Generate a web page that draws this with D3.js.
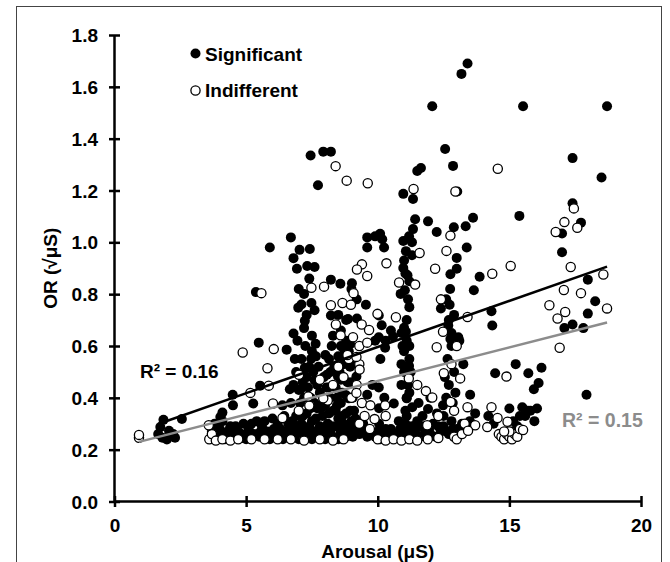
<!DOCTYPE html>
<html>
<head>
<meta charset="utf-8">
<script src="https://cdn.jsdelivr.net/npm/d3@7"></script>
<style>
  body { margin: 0; background: #fff; }
  text { font-family: "Liberation Sans", Arial, sans-serif; font-weight: bold; }
</style>
</head>
<body>
<script>
// tick values
const xTicks = [0, 5, 10, 15, 20];
const yTicks = [0, 0.2, 0.4, 0.6, 0.8, 1.0, 1.2, 1.4, 1.6, 1.8];

// Significant (filled) points
const sigScatter = [
  [13.41,1.69],[13.18,1.65],[12.07,1.525],[15.52,1.525],[18.71,1.525],[12.56,1.36],[7.45,1.335],[7.93,1.35],[8.22,1.35],
  [17.40,1.325],[12.86,1.295],[11.50,1.275],[11.64,1.287],[18.50,1.25],[7.73,1.22],[13.02,1.196],[10.97,1.187],[11.34,1.167],
  [17.40,1.151],[15.38,1.102],[13.62,1.095],[11.42,1.089],[11.91,1.081],[17.72,1.076],[13.34,1.062],[12.89,1.058],[12.24,1.04],
  [11.34,1.051],[17.0,1.034],[11.19,1.023],[6.70,1.019],[10.09,1.033],[9.90,1.023],[9.60,1.019],[10.17,1.012],[5.90,0.98],
  [7.03,0.971],[7.42,0.974],[9.60,0.98],[10.24,0.98],[10.97,1.005],[13.38,0.98],[6.80,0.939],[11.07,0.966],[17.0,0.962],
  [6.93,0.898],[7.32,0.909],[7.60,0.905],[10.97,0.901],[13.0,0.94],[13.0,0.898],[12.76,0.877],[11.13,0.873],[13.87,0.867],
  [8.22,0.856],[17.98,0.856],[8.58,0.84],[9.02,0.842],[13.65,0.815],[5.37,0.808],[7.20,0.801],[10.87,0.801],[11.03,0.815],
  [9.55,0.759],[6.98,0.748],[7.48,0.766],[7.60,0.738],[8.22,0.718],[14.32,0.734],[12.40,0.745],[12.73,0.759],[18.26,0.773],
  [17.98,0.725],[10.04,0.718],[8.87,0.704],[9.21,0.706],[7.23,0.697],[14.35,0.679],[12.68,0.679],[17.40,0.683],[17.09,0.669],
  [17.81,0.669],[7.20,0.669],[6.80,0.648],[11.07,0.655],[10.58,0.637],[13.06,0.634],[12.76,0.627],[5.48,0.613],[10.04,0.634],
  [10.28,0.593],[6.54,0.586],[7.64,0.609],[8.95,0.607],[8.66,0.595],[10.94,0.600],[10.90,0.53],[11.19,0.523],[8.01,0.565],
  [7.47,0.551],[7.23,0.516],[13.25,0.53],[15.24,0.53],[16.22,0.516],[14.46,0.495],[15.72,0.495],[8.95,0.523],[9.19,0.482],
  [8.07,0.489],[8.49,0.482],[7.60,0.468],[16.11,0.457],[15.93,0.433],[5.53,0.447],[6.66,0.433],[7.07,0.433],[8.14,0.44],
  [10.04,0.44],[4.49,0.412],[13.51,0.412],[17.93,0.412],[4.50,0.371],[5.27,0.378],[10.61,0.378],[11.10,0.398],[8.90,0.398],
  [9.60,0.412],[6.38,0.371],[4.10,0.343],[16.05,0.359],[15.0,0.359],[15.49,0.364],[11.91,0.357],[11.31,0.364],[12.48,0.371],
  [4.02,0.326],[1.86,0.315],[2.56,0.318],[1.74,0.287],[2.07,0.273],[2.23,0.26],[1.82,0.246],[2.30,0.246],[1.66,0.26],[1.99,0.239]
];
const sigCluster = [
  [6.8,0.45],[6.9,0.50],[7.0,0.43],[7.1,0.55],[7.2,0.40],[7.3,0.48],[7.4,0.52],[7.5,0.58],[7.6,0.38],[7.7,0.45],[7.8,0.42],
  [8.0,0.37],[8.2,0.50],[8.4,0.44],[8.5,0.56],[8.6,0.47],[8.7,0.53],[8.8,0.41],[8.8,0.62],[8.9,0.58],[9.0,0.46],[9.1,0.35],
  [8.6,0.60],[8.4,0.35],[8.2,0.40],[10.9,0.45],[11.0,0.50],[11.0,0.58],[11.1,0.62],[11.1,0.70],[11.2,0.75],[11.2,0.85],
  [11.0,0.93],[11.2,0.55],[10.9,0.65],[11.1,0.40],[12.6,0.40],[12.7,0.45],[12.5,0.33],[12.9,0.50],[12.8,0.60],[12.7,0.70],[12.6,0.78],
  [6.7,0.38],[6.85,0.55],[6.95,0.62],[7.05,0.38],[7.15,0.46],[7.25,0.60],[7.35,0.44],[7.45,0.40],[7.55,0.50],[7.65,0.56],
  [7.75,0.52],[7.85,0.36],[7.95,0.48],[8.05,0.44],[8.15,0.55],[8.25,0.60],[8.35,0.52],[8.45,0.40],[8.55,0.50],[8.65,0.42],
  [8.75,0.58],[8.85,0.46],[8.95,0.52],[9.05,0.40],[9.15,0.55],[8.3,0.64],[8.6,0.66],[8.5,0.72],[7.5,0.64],[7.3,0.72],
  [7.1,0.76],[7.0,0.82],[7.4,0.86],[8.8,0.70],[9.0,0.82],[9.2,0.78],
  [11.05,0.35],[11.15,0.45],[11.05,0.52],[11.2,0.60],[11.0,0.67],[11.15,0.78],[11.05,0.88],[11.3,0.95],[11.3,1.0],[11.2,0.42],[11.25,0.50],
  [12.65,0.55],[12.8,0.65],[12.9,0.72],[12.75,0.82],[12.55,0.48],[12.85,0.38],[13.1,0.62],[12.95,0.42],
  [10.05,0.36],[10.25,0.40],[9.8,0.45],[10.1,0.55],[10.3,0.62],[10.5,0.66],[9.9,0.62],[10.15,0.68],
  [14.4,0.30],[14.2,0.33],[15.15,0.31],[15.4,0.33],[15.7,0.35],[15.95,0.31],[13.5,0.31],[13.7,0.34],[12.25,0.34],[12.0,0.40],[11.7,0.33],[11.55,0.38]
];
const sigBand = [
  [3.7,0.27],[3.9,0.25],[4.0,0.28],[4.2,0.24],[4.3,0.27],[4.5,0.25],[4.6,0.29],[4.8,0.26],[4.9,0.30],[5.0,0.24],[5.1,0.28],
  [5.3,0.26],[5.4,0.31],[5.5,0.25],[5.6,0.29],[5.8,0.27],[5.9,0.24],[6.0,0.32],[6.1,0.26],[6.3,0.28],[6.4,0.24],[6.5,0.27],
  [6.6,0.30],[6.7,0.25],[6.8,0.28],[6.9,0.33],[7.0,0.26],[7.0,0.24],[7.1,0.30],[7.2,0.27],[7.3,0.25],[7.3,0.34],[7.4,0.29],
  [7.5,0.24],[7.5,0.31],[7.6,0.27],[7.7,0.36],[7.7,0.25],[7.8,0.29],[7.9,0.33],[8.0,0.26],[8.0,0.24],[8.1,0.30],[8.2,0.27],
  [8.3,0.35],[8.3,0.25],[8.4,0.29],[8.5,0.32],[8.5,0.24],[8.6,0.38],[8.6,0.27],[8.7,0.30],[8.8,0.25],[8.8,0.34],[8.9,0.28],
  [9.0,0.31],[9.1,0.26],[9.2,0.29],[9.4,0.27],[9.6,0.25],[9.9,0.25],[10.0,0.27],[10.1,0.24],[10.2,0.26],[10.4,0.25],
  [10.5,0.28],[10.7,0.26],[10.8,0.31],[10.9,0.25],[11.0,0.27],[11.1,0.33],[11.2,0.25],[11.3,0.29],[11.4,0.26],[11.5,0.31],
  [11.6,0.25],[11.8,0.27],[12.0,0.26],[12.1,0.30],[12.2,0.25],[12.4,0.27],[12.5,0.29],[12.7,0.26],[12.8,0.31],[12.9,0.25],
  [13.0,0.28],[13.2,0.30],[13.3,0.27],[15.1,0.27],[15.3,0.29],[15.6,0.33],[15.8,0.35],
  [3.8,0.30],[4.1,0.31],[4.4,0.29],[4.7,0.27],[5.2,0.30],[5.7,0.31],[6.2,0.30],[6.45,0.33],[6.75,0.31],[6.95,0.29],[7.15,0.33],
  [7.35,0.28],[7.45,0.36],[7.65,0.32],[7.85,0.27],[7.95,0.38],[8.15,0.34],[8.25,0.29],[8.45,0.37],[8.65,0.33],[8.75,0.27],
  [8.95,0.35],[9.05,0.25],[9.15,0.32],[9.3,0.26],[9.45,0.30],[10.05,0.30],[10.3,0.28],[10.6,0.25],[10.85,0.28],[11.05,0.30],
  [11.25,0.27],[11.45,0.28],[11.7,0.29],[11.95,0.28],[12.3,0.29],[12.6,0.27],[12.85,0.28],[13.1,0.26],
  [4.05,0.255],[4.55,0.27],[5.05,0.265],[5.55,0.27],[6.05,0.28],[6.55,0.25],[7.05,0.275],[7.55,0.265],[8.05,0.285],[8.55,0.255],
  [9.0,0.26],[6.25,0.255],[5.75,0.255],[4.85,0.245],[4.25,0.26],[3.75,0.245]
];

// Indifferent (open) points
const indScatter = [
  [14.56,1.284],[8.40,1.294],[8.82,1.238],[9.62,1.228],[11.36,1.206],[12.95,1.196],[17.45,1.131],[17.09,1.078],[17.58,1.056],
  [16.76,1.04],[12.76,1.026],[12.61,0.967],[11.59,0.959],[10.33,0.919],[9.40,0.915],[9.21,0.895],[12.18,0.898],[15.05,0.909],
  [17.33,0.905],[18.57,0.876],[14.35,0.879],[9.60,0.87],[7.48,0.825],[7.96,0.829],[5.58,0.804],[9.08,0.804],[10.81,0.845],
  [11.42,0.837],[17.07,0.816],[17.72,0.804],[8.22,0.757],[8.66,0.766],[8.98,0.759],[16.52,0.757],[12.40,0.78],[18.71,0.745],
  [17.12,0.731],[16.83,0.706],[13.41,0.712],[10.69,0.711],[9.99,0.724],[8.41,0.683],[9.39,0.683],[9.67,0.662],[9.06,0.634],
  [8.59,0.641],[12.48,0.655],[4.87,0.575],[6.05,0.588],[12.24,0.595],[13.0,0.60],[16.91,0.593],[9.60,0.613],[5.81,0.514],
  [9.19,0.558],[8.85,0.565],[9.31,0.509],[13.13,0.475],[14.89,0.482],[11.18,0.475],[11.83,0.426],[12.51,0.495],[12.80,0.53],
  [7.01,0.489],[5.16,0.419],[5.86,0.447],[6.02,0.378],[7.36,0.405],[7.93,0.398],[9.19,0.419],[9.72,0.371],[10.28,0.371],
  [12.07,0.401],[12.77,0.384],[13.41,0.364],[14.32,0.364],[14.55,0.322],[13.70,0.294],[14.16,0.287],[14.93,0.308],[15.52,0.276],
  [11.88,0.294],[13.43,0.273],[9.88,0.318],[0.93,0.246],[0.93,0.257],[3.58,0.294],[6.38,0.322]
];
const indCluster = [
  [7.0,0.35],[7.4,0.37],[7.8,0.47],[8.1,0.39],[8.3,0.45],[8.5,0.52],[8.7,0.48],[9.0,0.40],[9.2,0.45],[9.3,0.53],[9.4,0.38],
  [8.9,0.55],[9.3,0.60],[9.5,0.33],[10.3,0.33],[11.5,0.45],[12.3,0.33],[12.9,0.35],[13.3,0.30]
];
const indBand = [
  [3.6,0.24],[3.7,0.26],[3.85,0.235],[4.1,0.24],[4.4,0.235],[4.7,0.24],[5.2,0.24],[5.7,0.24],[6.2,0.24],[6.7,0.24],
  [7.2,0.235],[7.8,0.24],[8.3,0.235],[8.7,0.24],[9.3,0.30],[9.7,0.28],[10.0,0.24],[10.3,0.235],[10.6,0.24],[10.9,0.235],
  [11.2,0.24],[11.5,0.235],[11.9,0.24],[12.3,0.245],[12.9,0.25],[13.0,0.24],[13.2,0.26],[14.6,0.26],[14.7,0.25],
  [14.8,0.24],[14.9,0.26],[15.0,0.25],[15.1,0.24],[15.2,0.26],[15.3,0.25],[15.0,0.27],[14.8,0.27],[15.4,0.28]
];

// linear trendlines: [intercept, slope, xmin, xmax]
const sigTrend = [0.24, 0.0356, 1.66, 18.71];
const indTrend = [0.206, 0.0259, 0.93, 18.71];
const sigR2 = 'R\u00b2 = 0.16';
const indR2 = 'R\u00b2 = 0.15';

const significant = sigBand.concat(sigCluster, sigScatter);
const indifferent = indBand.concat(indCluster, indScatter);

const W = 670, H = 562;
const svg = d3.select('body').append('svg')
    .attr('width', W)
    .attr('height', H);

// outer frame (bottom edge runs off the picture)
svg.append('rect')
    .attr('x', 16.5).attr('y', 6.5)
    .attr('width', 645).attr('height', 600)
    .attr('fill', 'none')
    .attr('stroke', '#444')
    .attr('stroke-width', 1);

const x = d3.scaleLinear().domain([0, 20]).range([114.5, 641]);
const y = d3.scaleLinear().domain([0, 1.8]).range([501.5, 35]);

// axes
const xAxis = svg.append('g')
    .attr('transform', `translate(0,${y(0)})`)
    .call(d3.axisBottom(x).tickValues(xTicks).tickSize(0).tickFormat(d3.format('d')));
xAxis.select('.domain').remove();
xAxis.append('line')
    .attr('x1', x(0)).attr('x2', x(20))
    .attr('stroke', '#000').attr('stroke-width', 2.5);
xAxis.selectAll('.tick').append('line')
    .attr('y1', -5.5).attr('y2', 5.5)
    .attr('stroke', '#000').attr('stroke-width', 2.5);
xAxis.selectAll('.tick text')
    .attr('y', 30.5)
    .attr('dy', 0)
    .attr('fill', '#000')
    .style('font-size', '19px');

const yAxis = svg.append('g')
    .attr('transform', `translate(${x(0)},0)`)
    .call(d3.axisLeft(y).tickValues(yTicks).tickSize(0).tickFormat(d3.format('.1f')));
yAxis.select('.domain').remove();
yAxis.append('line')
    .attr('y1', y(0)).attr('y2', y(1.8))
    .attr('stroke', '#000').attr('stroke-width', 2.5);
yAxis.selectAll('.tick').append('line')
    .attr('x1', -5.5).attr('x2', 5.5)
    .attr('stroke', '#000').attr('stroke-width', 2.5);
yAxis.selectAll('.tick text')
    .attr('x', -16.5)
    .attr('dy', '0.35em')
    .attr('fill', '#000')
    .style('font-size', '19px');

// axis titles
svg.append('text')
    .attr('x', (x(0) + x(20)) / 2)
    .attr('y', 558)
    .attr('text-anchor', 'middle')
    .style('font-size', '19px')
    .text('Arousal (\u03bcS)');

svg.append('text')
    .attr('transform', `translate(57,${(y(0) + y(1.8)) / 2}) rotate(-90)`)
    .attr('text-anchor', 'middle')
    .style('font-size', '19px')
    .text('OR (\u221a\u03bcS)');

// points
const plot = svg.append('g');
plot.selectAll('.sig')
    .data(significant)
    .enter().append('circle')
    .attr('class', 'sig')
    .attr('cx', d => x(d[0]))
    .attr('cy', d => y(d[1]))
    .attr('r', 5)
    .attr('fill', '#000');

plot.selectAll('.ind')
    .data(indifferent)
    .enter().append('circle')
    .attr('class', 'ind')
    .attr('cx', d => x(d[0]))
    .attr('cy', d => y(d[1]))
    .attr('r', 4.6)
    .attr('fill', '#fff')
    .attr('stroke', '#000')
    .attr('stroke-width', 1.3);

// trendlines
function trend(t, colour) {
    const pts = [t[2], t[3]].map(v => [x(v), y(t[0] + t[1] * v)]);
    svg.append('path')
        .attr('d', d3.line()(pts))
        .attr('stroke', colour)
        .attr('stroke-width', 2.5)
        .attr('fill', 'none');
}
trend(sigTrend, '#000');
trend(indTrend, '#8c8c8c');

svg.append('text')
    .attr('x', 140).attr('y', 378)
    .style('font-size', '19px')
    .attr('fill', '#000')
    .text(sigR2);

svg.append('text')
    .attr('x', 562).attr('y', 427)
    .style('font-size', '19.5px')
    .attr('fill', '#8c8c8c')
    .text(indR2);

// legend
const legend = svg.append('g');
legend.append('circle')
    .attr('cx', 195.5).attr('cy', 53.5)
    .attr('r', 5).attr('fill', '#000');
legend.append('text')
    .attr('x', 205).attr('y', 60.5)
    .style('font-size', '19px')
    .text('Significant');
legend.append('circle')
    .attr('cx', 195.5).attr('cy', 90.5)
    .attr('r', 4.6).attr('fill', '#fff')
    .attr('stroke', '#000').attr('stroke-width', 1.3);
legend.append('text')
    .attr('x', 205).attr('y', 97)
    .style('font-size', '19px')
    .text('Indifferent');
</script>
</body>
</html>
